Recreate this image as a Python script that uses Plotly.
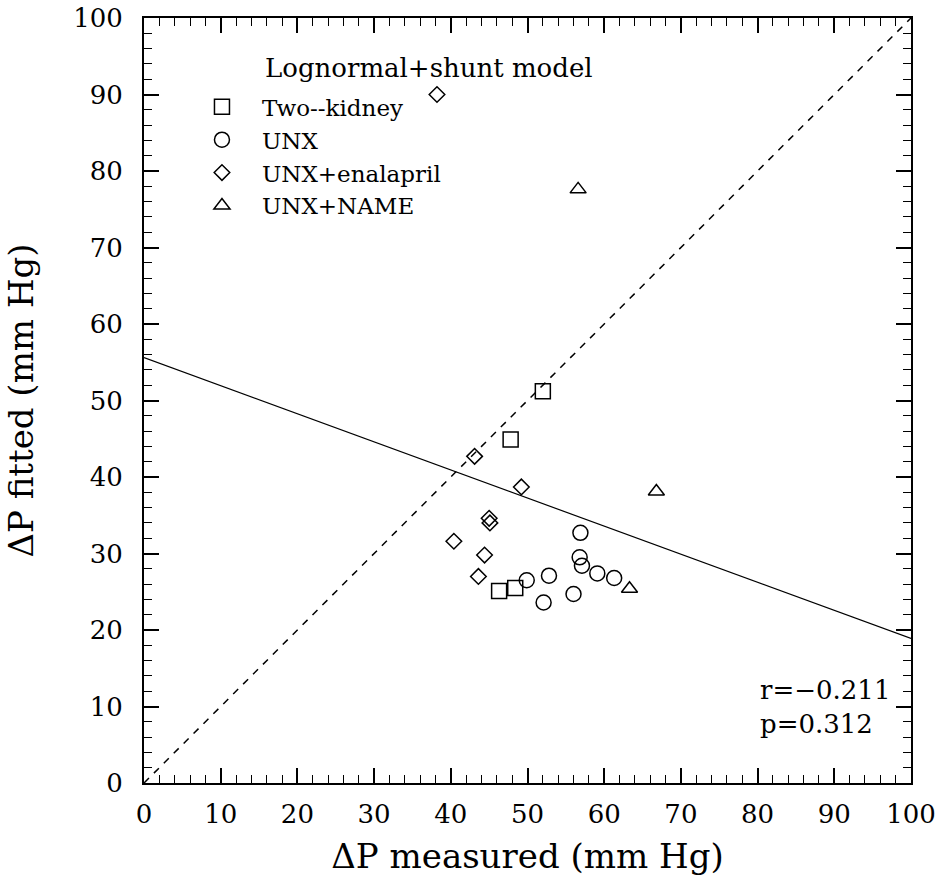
import plotly.graph_objects as go

# ---- data ----
two_kidney_x = [52.0, 47.8, 46.3, 48.4]
two_kidney_y = [51.2, 44.9, 25.1, 25.5]

unx_x = [56.9, 56.8, 57.1, 59.1, 61.3, 56.0, 52.8, 52.1, 49.9]
unx_y = [32.7, 29.5, 28.4, 27.4, 26.8, 24.7, 27.1, 23.6, 26.5]

enal_x = [38.2, 43.1, 49.2, 45.0, 45.1, 40.4, 44.4, 43.6]
enal_y = [90.0, 42.7, 38.7, 34.6, 34.0, 31.6, 29.8, 27.0]

name_x = [56.6, 66.8, 63.3]
name_y = [77.6, 38.1, 25.4]

fit_intercept = 55.6
fit_slope = -0.367
axis_range = [0, 100]
r_text = "r=\u22120.211"
p_text = "p=0.312"

FONT = "DejaVu Serif"
BLACK = "black"

line_x = list(axis_range)
fit_y = [fit_intercept + fit_slope * v for v in line_x]

fig = go.Figure()

# identity line
fig.add_trace(go.Scatter(x=line_x, y=line_x, mode="lines",
                         line=dict(color=BLACK, width=1.5, dash="7px,7px"),
                         showlegend=False, hoverinfo="skip"))
# regression line
fig.add_trace(go.Scatter(x=line_x, y=fit_y, mode="lines",
                         line=dict(color=BLACK, width=1.2),
                         showlegend=False, hoverinfo="skip"))

mk = dict(color=BLACK, line=dict(color=BLACK, width=1.5))
fig.add_trace(go.Scatter(x=two_kidney_x, y=two_kidney_y, mode="markers", name="Two--kidney",
                         marker=dict(symbol="square-open", size=15, **mk)))
fig.add_trace(go.Scatter(x=unx_x, y=unx_y, mode="markers", name="UNX",
                         marker=dict(symbol="circle-open", size=15, **mk)))
fig.add_trace(go.Scatter(x=enal_x, y=enal_y, mode="markers", name="UNX+enalapril",
                         marker=dict(symbol="diamond-open", size=12, **mk)))
fig.add_trace(go.Scatter(x=name_x, y=name_y, mode="markers", name="UNX+NAME",
                         marker=dict(symbol="triangle-up-open", size=14, **mk)))

axis_common = dict(
    range=axis_range, showgrid=False, zeroline=False, automargin=False,
    showline=True, linecolor=BLACK, linewidth=2, mirror="allticks",
    ticks="inside", ticklen=15, tickwidth=1.5, tickcolor=BLACK,
    tick0=0, dtick=10,
    minor=dict(ticks="inside", ticklen=8, tickwidth=1.2, tickcolor=BLACK, dtick=2, showgrid=False),
    tickfont=dict(family=FONT, size=26, color=BLACK),
)

fig.update_xaxes(**axis_common, ticklabelstandoff=7,
                 title=dict(text="\u0394P measured (mm Hg)", font=dict(family=FONT, size=34, color=BLACK),
                            standoff=16))
fig.update_yaxes(**axis_common, ticklabelstandoff=14,
                 title=dict(text="\u0394P fitted (mm Hg)", font=dict(family=FONT, size=34, color=BLACK),
                            standoff=29))

fig.add_annotation(x=0.155, y=0.935, xref="paper", yref="paper",
                   text="Lognormal+shunt model", showarrow=False,
                   xanchor="left", yanchor="middle",
                   font=dict(family=FONT, size=26, color=BLACK))

fig.add_annotation(x=80, y=9.9, xref="x", yref="y",
                   text=r_text + "<br>" + p_text, showarrow=False,
                   xanchor="left", yanchor="middle", align="left",
                   font=dict(family=FONT, size=26, color=BLACK))

fig.update_layout(
    width=941, height=891,
    margin=dict(l=144, r=30, t=18, b=108),
    paper_bgcolor="white", plot_bgcolor="white",
    legend=dict(x=0.0495, y=0.912, xanchor="left", yanchor="top",
                bgcolor="rgba(0,0,0,0)", borderwidth=0, itemwidth=70,
                font=dict(family=FONT, size=23, color=BLACK)),
)

fig.write_html("out.html")
